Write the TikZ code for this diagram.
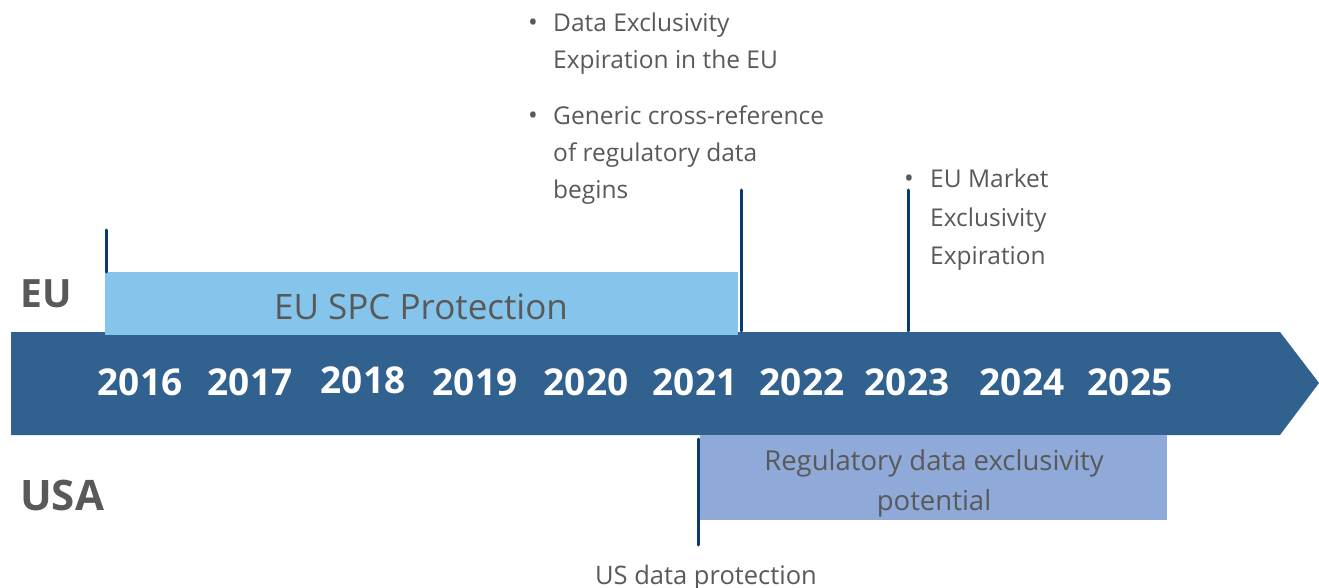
\documentclass[tikz,border=0pt]{standalone}
\usepackage{fontspec}
\setmainfont{Open Sans}
\definecolor{band}{HTML}{31618F}
\definecolor{spc}{HTML}{85C5EC}
\definecolor{usa}{HTML}{8FA9D8}
\definecolor{txt}{HTML}{595959}
\definecolor{mark}{HTML}{0B3A6E}
\begin{document}
\begin{tikzpicture}[x=1pt,y=-1pt,
  year/.style={text=white,font=\fontsize{37}{40}\selectfont\bfseries,inner sep=0pt,anchor=base},
  region/.style={text=txt,font=\fontsize{40}{44}\selectfont\bfseries,inner sep=0pt,anchor=base west},
  note/.style={text=txt,font=\fontsize{24.5}{30}\selectfont,inner sep=0pt,anchor=base west},
  dot/.style={text=txt,font=\fontsize{26}{30}\selectfont,inner sep=0pt,anchor=base},
  marker/.style={draw=mark,line width=3pt,line cap=round}]
\useasboundingbox (0,0) rectangle (1319,588);
% band arrow
\fill[band] (11,332) -- (1280,332) -- (1319,383) -- (1280,435) -- (11,435) -- cycle;
% EU SPC box
\node[fill=spc,minimum width=633pt,minimum height=63pt,anchor=north west,inner sep=0pt] (spc) at (105,272) {};
\node[text=txt,font=\fontsize{35}{40}\selectfont,inner sep=0pt,anchor=base] (spct) at (421,319) {EU SPC Protection};
% USA box
\node[fill=usa,minimum width=467pt,minimum height=85pt,anchor=north west,inner sep=0pt] (usab) at (700,435) {};
\node[text=txt,font=\fontsize{27.5}{32}\selectfont,inner sep=0pt,anchor=base] (usat1) at (934,470) {Regulatory data exclusivity};
\node[text=txt,font=\fontsize{27.5}{32}\selectfont,inner sep=0pt,anchor=base] (usat2) at (934,510) {potential};
% years
\foreach \yr/\x/\y in {2016/140/395,2017/250/395,2018/363/393,2019/475/395,2020/586/395,2021/695/395,2022/802/395,2023/907/395,2024/1022/395,2025/1130/395}
  \node[year] (y\yr) at (\x,\y) {\yr};
% region labels
\node[region,font=\fontsize{39}{44}\selectfont\bfseries] (eu) at (20,307) {EU};
\node[region,font=\fontsize{42}{46}\selectfont\bfseries] (us) at (20,510) {USA};
% markers
\coordinate (m1a) at (106,230); \coordinate (m1b) at (106,272);
\coordinate (m2a) at (741,190); \coordinate (m2b) at (741,331);
\coordinate (m3a) at (908,190); \coordinate (m3b) at (908,331);
\coordinate (m4a) at (698,439); \coordinate (m4b) at (698,545);
\draw[marker] (m1a) -- (m1b);
\draw[marker] (m2a) -- (m2b);
\draw[marker] (m3a) -- (m3b);
\draw[marker] (m4a) -- (m4b);
% notes
\node[dot] (b1) at (533,32) {•};
\node[note] (n1a) at (553,32) {Data Exclusivity};
\node[note] (n1b) at (553,69) {Expiration in the EU};
\node[dot] (b2) at (533,125) {•};
\node[note] (n2a) at (553,125) {Generic cross-reference};
\node[note] (n2b) at (553,162) {of regulatory data};
\node[note] (n2c) at (553,199) {begins};
\node[dot] (b3) at (909,188) {•};
\node[note] (n3a) at (930,188) {EU Market};
\node[note] (n3b) at (930,226) {Exclusivity};
\node[note] (n3c) at (930,264) {Expiration};
\node[text=txt,font=\fontsize{25.5}{30}\selectfont,inner sep=0pt,anchor=base] (usp) at (706,584) {US data protection};
\end{tikzpicture}
\end{document}
